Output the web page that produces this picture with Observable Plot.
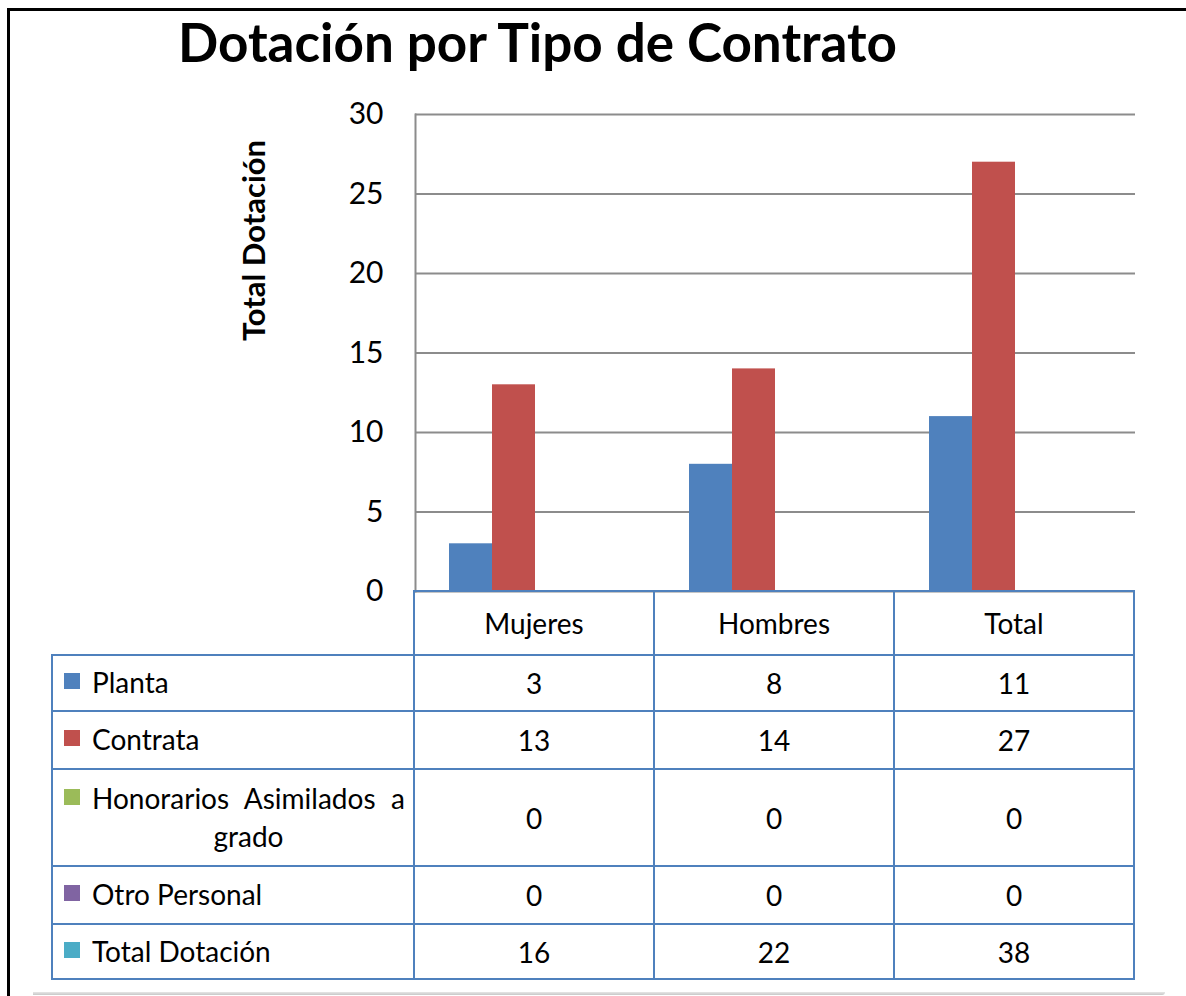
<!DOCTYPE html>
<html>
<head>
<meta charset="utf-8">
<script src="https://cdn.jsdelivr.net/npm/d3@7"></script>
<script src="https://cdn.jsdelivr.net/npm/@observablehq/plot@0.6"></script>
<style>
  html, body { margin: 0; padding: 0; background: #fff; }
  #wrap { position: relative; width: 1186px; height: 996px; overflow: hidden; background: #fff; font-family: Lato, "Open Sans", sans-serif; color: #000; }
  #frame { position: absolute; left: 7px; top: 8px; width: 1200px; height: 1000px; border-left: 3px solid #000; border-top: 3px solid #000; }
  #bottomline { position: absolute; left: 33px; top: 992px; width: 1132px; height: 3px; background: linear-gradient(#e6e6e6, #c8c8c8); border-radius: 0 0 6px 0; }
  #title { position: absolute; left: 178px; top: 10px; font-family: Lato; font-weight: bold; font-size: 53px; line-height: 1.2; white-space: nowrap; }
  #chart { position: absolute; left: 0; top: 0; }
  #tbl { position: absolute; left: 51px; top: 590px; border-collapse: collapse; table-layout: fixed; font-family: Lato; font-size: 28px; color: #000; }
  #tbl td { border: 2px solid #4f81bd; text-align: center; vertical-align: middle; padding: 0; }
  #tbl td.blank { border: none; }
  #tbl td.lab { text-align: left; }
  .labwrap { display: flex; align-items: flex-start; padding-left: 11px; padding-right: 8px; }
  .key { flex: none; width: 16px; height: 16px; margin-top: 9px; margin-right: 12px; }
  .labtext { text-align: justify; text-align-last: center; line-height: 1.35; }
</style>
</head>
<body>
<div id="wrap">
  <div id="frame"></div>
  <div id="bottomline"></div>
  <div id="chart"></div>
  <div id="title"></div>
  <table id="tbl"></table>
</div>
<script>
// ---- data ----
const chartTitle = "Dotación por Tipo de Contrato";
const yAxisTitle = "Total Dotación";
const categories = ["Mujeres", "Hombres", "Total"];
const seriesNames = ["Planta", "Contrata", "Honorarios Asimilados a grado", "Otro Personal", "Total Dotación"];
const seriesColors = ["#4F81BD", "#C0504D", "#9BBB59", "#8064A2", "#4BACC6"];
const planta = [3, 8, 11];
const contrata = [13, 14, 27];
const honorarios = [0, 0, 0];
const otroPersonal = [0, 0, 0];
const totalDotacion = [16, 22, 38];
const barSeriesNames = ["Planta", "Contrata", "Honorarios Asimilados a grado", "Otro Personal"];
const yTicks = [0, 5, 10, 15, 20, 25, 30];

const seriesValues = [planta, contrata, honorarios, otroPersonal, totalDotacion];

// bar table built from the arrays
const bars = [];
categories.forEach((c, i) => {
  barSeriesNames.forEach((s) => {
    const k = seriesNames.indexOf(s);
    bars.push({cat: c, series: s, value: seriesValues[k][i]});
  });
});

document.getElementById("title").textContent = chartTitle;

const plot = Plot.plot({
  width: 1186,
  height: 592,
  marginLeft: 415,
  marginRight: 51,
  marginTop: 114,
  marginBottom: 1,
  style: {fontFamily: "Lato, sans-serif", fontSize: "30px", color: "#000", background: "transparent", overflow: "visible"},
  fx: {domain: categories, padding: 0, axis: null, label: null},
  x: {domain: barSeriesNames, paddingInner: 0, paddingOuter: 0.75, axis: null},
  y: {domain: [0, 30]},
  color: {domain: seriesNames, range: seriesColors},
  marks: [
    Plot.gridY(yTicks, {stroke: "#8c8c8c", strokeOpacity: 1, strokeWidth: 2}),
    Plot.frame({anchor: "left", facet: "super", stroke: "#8c8c8c", strokeWidth: 2}),
    Plot.barY(bars, {fx: "cat", x: "series", y: "value", fill: "series"}),
    Plot.axisY(yTicks, {tickSize: 0, tickPadding: 32, label: null, fontSize: 30}),
    Plot.text([yAxisTitle], {facet: "super", frameAnchor: "top-left", dx: -160, dy: 126, rotate: -90, textAnchor: "middle", lineAnchor: "middle", fontWeight: "bold", fontSize: 31, text: d => d})
  ]
});
document.getElementById("chart").appendChild(plot);

// data table
const tbl = document.getElementById("tbl");
const colgroup = document.createElement("colgroup");
[362, 240, 240, 240].forEach(w => { const c = document.createElement("col"); c.style.width = w + "px"; colgroup.appendChild(c); });
tbl.appendChild(colgroup);
const rowHeights = [64, 56, 58, 97, 58, 55];
const hdr = document.createElement("tr");
hdr.style.height = rowHeights[0] + "px";
const blank = document.createElement("td"); blank.className = "blank"; hdr.appendChild(blank);
categories.forEach(c => { const td = document.createElement("td"); td.textContent = c; hdr.appendChild(td); });
tbl.appendChild(hdr);
seriesNames.forEach((s, k) => {
  const tr = document.createElement("tr");
  tr.style.height = rowHeights[k + 1] + "px";
  const lab = document.createElement("td"); lab.className = "lab";
  const wrap = document.createElement("div"); wrap.className = "labwrap";
  const key = document.createElement("span"); key.className = "key"; key.style.background = seriesColors[k];
  const txt = document.createElement("div"); txt.className = "labtext"; txt.textContent = s;
  wrap.appendChild(key); wrap.appendChild(txt); lab.appendChild(wrap); tr.appendChild(lab);
  seriesValues[k].forEach(v => { const td = document.createElement("td"); td.textContent = v; tr.appendChild(td); });
  tbl.appendChild(tr);
});
</script>
</body>
</html>
